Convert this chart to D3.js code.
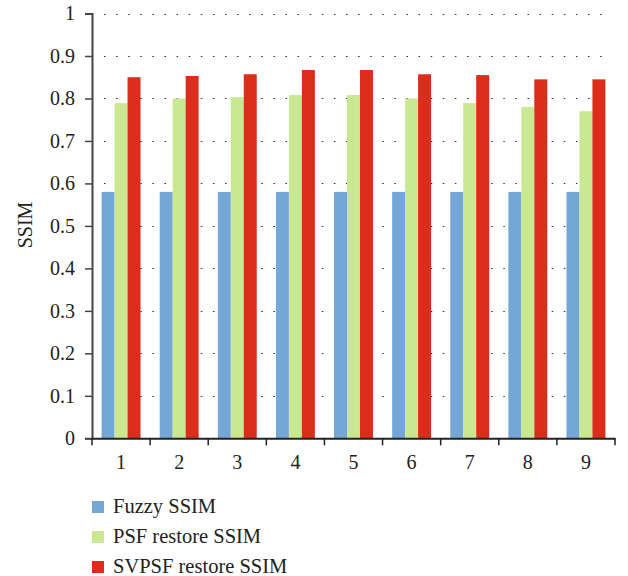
<!DOCTYPE html>
<html><head><meta charset="utf-8">
<script src="https://cdn.jsdelivr.net/npm/d3@7"></script>
<style>body{margin:0;background:#fff;}</style>
</head><body>
<svg id="chart" width="628" height="576"></svg>
<script>
const categories = ["1","2","3","4","5","6","7","8","9"];
const seriesNames = ["Fuzzy SSIM","PSF restore SSIM","SVPSF restore SSIM"];
const fuzzy = [0.58,0.58,0.58,0.58,0.58,0.58,0.58,0.58,0.58];
const psf = [0.789,0.80,0.803,0.808,0.808,0.80,0.789,0.78,0.77];
const svpsf = [0.850,0.853,0.857,0.867,0.867,0.857,0.855,0.845,0.845];
const yTicks = [0,0.1,0.2,0.3,0.4,0.5,0.6,0.7,0.8,0.9,1];
const colors = ["#74a6d6","#c9e891","#dc2c1b"];
const seriesValues = [fuzzy, psf, svpsf];

(function(){
const FONT = "'Liberation Serif', 'Times New Roman', Times, serif";
const svg = d3.select("#chart");
const mLeft = 92, mRight = 615, mTop = 13.5, mBottom = 438.3;
const x = d3.scaleBand().domain(categories).range([mLeft, mRight]).paddingInner(0).paddingOuter(0);
const xs = d3.scaleBand().domain(d3.range(3)).range([0, x.bandwidth()]).paddingInner(0).paddingOuter(0.74);
const y = d3.scaleLinear().domain([0,1]).range([mBottom, mTop]);

// dotted grid
const grid = svg.append("g");
yTicks.filter(d=>d>0).forEach(t=>{
  grid.append("line").attr("x1",104).attr("x2",611).attr("y1",Math.round(y(t))+0.5).attr("y2",Math.round(y(t))+0.5)
    .attr("stroke","#333").attr("stroke-width",1.2).attr("stroke-dasharray","1.5,10.6");
});

// bars
const g = svg.append("g");
categories.forEach((c,i)=>{
  seriesValues.forEach((vals,s)=>{
    g.append("rect").attr("x", x(c)+xs(s)).attr("width", xs.bandwidth())
     .attr("y", y(vals[i])).attr("height", y(0)-y(vals[i])).attr("fill", colors[s]);
  });
});

// y axis
const yAxis = d3.axisLeft(y).tickValues(yTicks).tickFormat(d=>d===0?"0":d===1?"1":d3.format(".1f")(d)).tickSize(7).tickPadding(10);
const ya = svg.append("g").attr("transform",`translate(${mLeft},0)`).call(yAxis);
ya.attr("font-family", FONT).attr("font-size", 20);
ya.select(".domain").attr("stroke","#444").attr("stroke-width",2);
ya.selectAll(".tick line").attr("stroke","#444").attr("stroke-width",1.5);
ya.selectAll("text").attr("fill","#222");

// x axis
const xAxis = d3.axisBottom(x).tickSize(0).tickPadding(17);
const xa = svg.append("g").attr("transform",`translate(0,${mBottom})`).call(xAxis);
xa.attr("font-family", FONT).attr("font-size", 20);
xa.select(".domain").attr("stroke","#222").attr("stroke-width",2);
xa.selectAll("text").attr("fill","#222");
const bounds = categories.map(c=>x(c)).concat([mRight]);
xa.selectAll(".bt").data(bounds).enter().append("line").attr("class","bt")
  .attr("x1",d=>d).attr("x2",d=>d).attr("y1",0).attr("y2",7).attr("stroke","#222").attr("stroke-width",1.5);

// y label
svg.append("text").attr("transform","translate(32,225) rotate(-90)").attr("text-anchor","middle")
  .attr("font-family", FONT).attr("font-size",20).attr("fill","#222").text("SSIM");

// legend
const leg = svg.append("g");
seriesNames.forEach((n,i)=>{
  const yy = 501 + i*30;
  leg.append("rect").attr("x",92).attr("y",yy).attr("width",12).attr("height",12).attr("fill",colors[i]);
  leg.append("text").attr("x",113).attr("y",yy+12).attr("font-family", FONT).attr("font-size",20.5).attr("fill","#222").text(n);
});
})();
</script>
</body></html>
